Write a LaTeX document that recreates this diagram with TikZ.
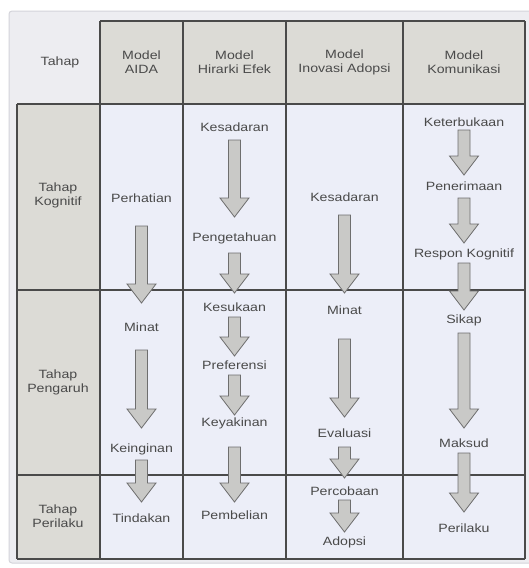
\documentclass[tikz,border=0pt]{standalone}
\usepackage{fontspec}
\setmainfont{Liberation Sans}[FakeStretch=1.18]
\usetikzlibrary{calc}
\definecolor{framebg}{HTML}{EDEDF1}
\definecolor{framebd}{HTML}{D4D4DA}
\definecolor{hdrbg}{HTML}{DCDBD6}
\definecolor{cellbg}{HTML}{ECEEF8}
\definecolor{gridln}{HTML}{4A4A4A}
\definecolor{txt}{HTML}{4A4A4A}
\definecolor{arrfill}{HTML}{C9C9C7}
\definecolor{arrline}{HTML}{6E6E6E}
\tikzset{
  lbl/.style={inner sep=0pt, text=txt, font=\fontsize{12}{14}\selectfont, align=center},
  grid/.style={draw=gridln, line width=1.1pt},
  barrow/.style={fill=arrfill, draw=arrline, line width=0.8pt, line join=miter},
}
\newcommand\bigarr[2]{%
  \path[barrow] let \p1=(#1), \p2=(#2) in
    (\x1-6,\y1) -- (\x1+6,\y1) -- (\x1+6,\y2+19) -- (\x1+14.5,\y2+19) --
    (\x1,\y2) -- (\x1-14.5,\y2+19) -- (\x1-6,\y2+19) -- cycle;}
\begin{document}
\begin{tikzpicture}[x=1pt,y=-1pt]
\useasboundingbox (0,0) rectangle (529,568);
\fill[white] (0,0) rectangle (529,568);
% outer frame
\draw[framebd, fill=framebg, line width=1pt, rounded corners=3pt] (9,11) rectangle (535,563);
% cells backgrounds
\fill[hdrbg] (100,21) rectangle (525,104);
\fill[hdrbg] (17,104) rectangle (100,559);
\fill[cellbg] (100,104) rectangle (525,559);
% grid
\draw[grid] (100,21) -- (525,21);
\draw[grid] (17,104) -- (525,104);
\draw[grid] (17,290) -- (525,290);
\draw[grid] (17,475) -- (525,475);
\draw[grid] (17,559) -- (525,559);
\draw[grid] (17,104) -- (17,559);
\foreach \x in {100,183,286,403,525} \draw[grid] (\x,21) -- (\x,559);
% header
\node[lbl] (hTahap) at (60,62) {Tahap};
\node[lbl] (hAIDA) at (141.5,62) {Model\\AIDA};
\node[lbl] (hHir) at (234.5,62) {Model\\Hirarki Efek};
\node[lbl] (hIno) at (344.5,62) {Model\\Inovasi Adopsi};
\node[lbl] (hKom) at (464,62) {Model\\Komunikasi};
% row labels
\node[lbl] (rKog) at (58,195) {Tahap\\Kognitif};
\node[lbl] (rPen) at (58,382) {Tahap\\Pengaruh};
\node[lbl] (rPer) at (58,516) {Tahap\\Perilaku};
% AIDA
\node[lbl] (a1) at (141.5,198) {Perhatian};
\node[lbl] (a2) at (141.5,327) {Minat};
\node[lbl] (a3) at (141.5,449) {Keinginan};
\node[lbl] (a4) at (141.5,518) {Tindakan};
\coordinate (a1s) at (141.5,226); \coordinate (a1e) at (141.5,303);
\coordinate (a2s) at (141.5,350); \coordinate (a2e) at (141.5,428);
\coordinate (a3s) at (141.5,460); \coordinate (a3e) at (141.5,502);
\bigarr{a1s}{a1e}\bigarr{a2s}{a2e}\bigarr{a3s}{a3e}
% Hirarki Efek
\node[lbl] (b1) at (234.5,127) {Kesadaran};
\node[lbl] (b2) at (234.5,238) {Pengetahuan};
\node[lbl] (b3) at (234.5,307) {Kesukaan};
\node[lbl] (b4) at (234.5,365) {Preferensi};
\node[lbl] (b5) at (234.5,423) {Keyakinan};
\node[lbl] (b6) at (234.5,515) {Pembelian};
\coordinate (b1s) at (234.5,140); \coordinate (b1e) at (234.5,217);
\coordinate (b2s) at (234.5,253); \coordinate (b2e) at (234.5,293);
\coordinate (b3s) at (234.5,317); \coordinate (b3e) at (234.5,356);
\coordinate (b4s) at (234.5,375); \coordinate (b4e) at (234.5,415);
\coordinate (b5s) at (234.5,447); \coordinate (b5e) at (234.5,502);
\bigarr{b1s}{b1e}\bigarr{b2s}{b2e}\bigarr{b3s}{b3e}\bigarr{b4s}{b4e}\bigarr{b5s}{b5e}
% Inovasi Adopsi
\node[lbl] (c1) at (344.5,197) {Kesadaran};
\node[lbl] (c2) at (344.5,310) {Minat};
\node[lbl] (c3) at (344.5,433) {Evaluasi};
\node[lbl] (c4) at (344.5,491) {Percobaan};
\node[lbl] (c5) at (344.5,542) {Adopsi};
\coordinate (c1s) at (344.5,215); \coordinate (c1e) at (344.5,293);
\coordinate (c2s) at (344.5,339); \coordinate (c2e) at (344.5,417);
\coordinate (c3s) at (344.5,447); \coordinate (c3e) at (344.5,478);
\coordinate (c4s) at (344.5,500); \coordinate (c4e) at (344.5,532);
\bigarr{c1s}{c1e}\bigarr{c2s}{c2e}\bigarr{c3s}{c3e}\bigarr{c4s}{c4e}
% Komunikasi
\node[lbl] (d1) at (464,122) {Keterbukaan};
\node[lbl] (d2) at (464,186) {Penerimaan};
\node[lbl] (d3) at (464,254) {Respon Kognitif};
\node[lbl] (d4) at (464,320) {Sikap};
\node[lbl] (d5) at (464,443) {Maksud};
\node[lbl] (d6) at (464,528) {Perilaku};
\coordinate (d1s) at (464,130); \coordinate (d1e) at (464,175);
\coordinate (d2s) at (464,198); \coordinate (d2e) at (464,243);
\coordinate (d3s) at (464,263); \coordinate (d3e) at (464,310);
\coordinate (d4s) at (464,333); \coordinate (d4e) at (464,428);
\coordinate (d5s) at (464,453); \coordinate (d5e) at (464,512);
\bigarr{d1s}{d1e}\bigarr{d2s}{d2e}\bigarr{d3s}{d3e}\bigarr{d4s}{d4e}\bigarr{d5s}{d5e}
\end{tikzpicture}
\end{document}
